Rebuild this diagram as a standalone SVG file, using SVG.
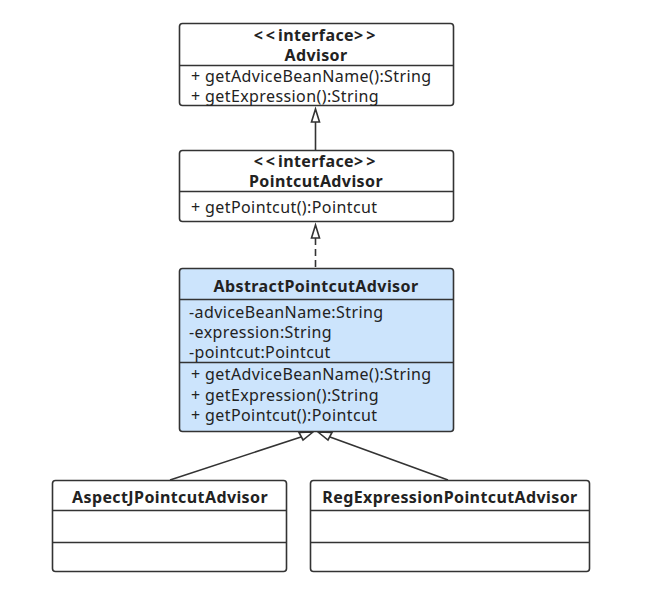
<svg xmlns="http://www.w3.org/2000/svg" width="651" height="593" viewBox="0 0 651 593">
<style>
.box{fill:#ffffff;stroke:#333333;stroke-width:1.6}
.abs{fill:#cce4fc}
.div{stroke:#333333;stroke-width:1.6}
text{font-family:"Noto Sans","Open Sans","DejaVu Sans",sans-serif;font-size:16px;letter-spacing:0.4px;fill:#222222}
.t{font-weight:bold;text-anchor:middle}
.st{text-anchor:middle;font-weight:bold}
.br{letter-spacing:3px}
.con{stroke:#333333;stroke-width:1.6;fill:none}
.head{fill:#ffffff;stroke:#333333;stroke-width:1.6}
</style>
<rect width="651" height="593" fill="#ffffff"/>
<g id="connectors">
<line class="con" x1="315.5" y1="122" x2="315.5" y2="150"/>
<path class="head" d="M315.5,109 L311.5,122 L319.5,122 Z"/>
<line class="con" x1="315.5" y1="238" x2="315.5" y2="268" stroke-dasharray="7,4"/>
<path class="head" d="M315.5,225 L311.5,238 L319.5,238 Z"/>
<line class="con" x1="170" y1="480" x2="301" y2="437"/>
<path class="head" d="M313,432 L299,432.5 L303,440 Z"/>
<line class="con" x1="448" y1="480" x2="330" y2="437"/>
<path class="head" d="M318,432 L332,432.5 L328,440 Z"/>
</g>
<g id="advisor">
<rect class="box" x="179.5" y="23.5" width="274" height="82" rx="3"/>
<line class="div" x1="179.5" y1="65.5" x2="453.5" y2="65.5"/>
<text class="st" x="316" y="41"><tspan class="br">&lt;&lt;</tspan>interface<tspan class="br">&gt;&gt;</tspan></text>
<text class="t" x="316" y="61">Advisor</text>
<text x="191" y="82">+ getAdviceBeanName():String</text>
<text x="191" y="102">+ getExpression():String</text>
</g>
<g id="pointcutAdvisor">
<rect class="box" x="179.5" y="150.5" width="274" height="71" rx="3"/>
<line class="div" x1="179.5" y1="191.5" x2="453.5" y2="191.5"/>
<text class="st" x="316" y="167"><tspan class="br">&lt;&lt;</tspan>interface<tspan class="br">&gt;&gt;</tspan></text>
<text class="t" x="316" y="187">PointcutAdvisor</text>
<text x="191" y="213">+ getPointcut():Pointcut</text>
</g>
<g id="abstractPointcutAdvisor">
<rect class="box abs" x="179.5" y="268.5" width="274" height="163" rx="3"/>
<line class="div" x1="179.5" y1="299.5" x2="453.5" y2="299.5"/>
<line class="div" x1="179.5" y1="362.5" x2="453.5" y2="362.5"/>
<text class="t" x="316" y="292">AbstractPointcutAdvisor</text>
<text x="189" y="318">-adviceBeanName:String</text>
<text x="189" y="338">-expression:String</text>
<text x="189" y="358">-pointcut:Pointcut</text>
<text x="191" y="380">+ getAdviceBeanName():String</text>
<text x="191" y="401">+ getExpression():String</text>
<text x="191" y="421">+ getPointcut():Pointcut</text>
</g>
<g id="aspectJPointcutAdvisor">
<rect class="box" x="52.5" y="480.5" width="234" height="91" rx="3"/>
<line class="div" x1="52.5" y1="510.5" x2="286.5" y2="510.5"/>
<line class="div" x1="52.5" y1="542.5" x2="286.5" y2="542.5"/>
<text class="t" x="170" y="503">AspectJPointcutAdvisor</text>
</g>
<g id="regExpressionPointcutAdvisor">
<rect class="box" x="310.5" y="480.5" width="279" height="91" rx="3"/>
<line class="div" x1="310.5" y1="510.5" x2="589.5" y2="510.5"/>
<line class="div" x1="310.5" y1="542.5" x2="589.5" y2="542.5"/>
<text class="t" x="450" y="503">RegExpressionPointcutAdvisor</text>
</g>
</svg>
